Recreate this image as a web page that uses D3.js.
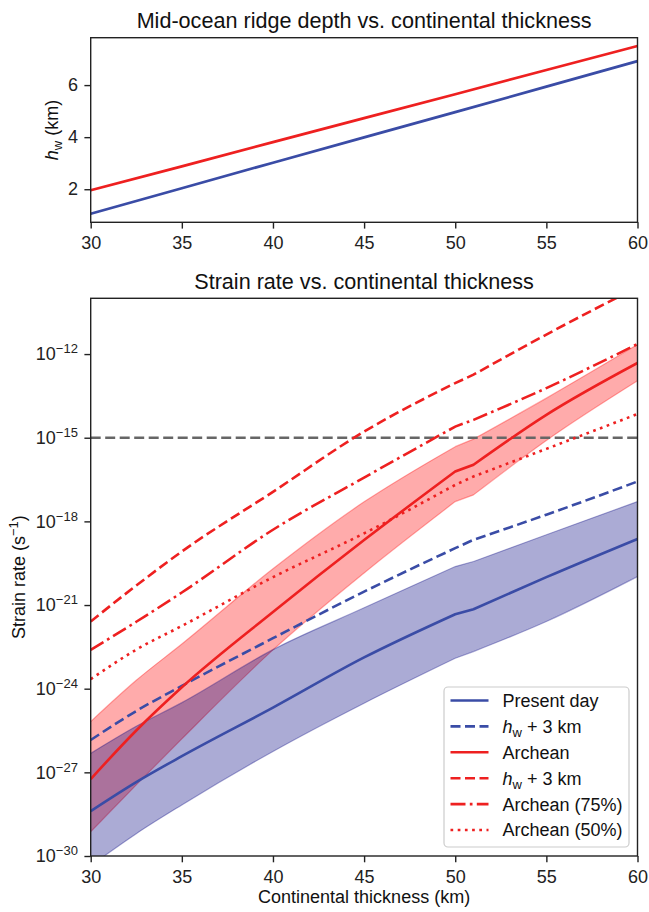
<!DOCTYPE html>
<html>
<head>
<meta charset="utf-8">
<script src="https://cdn.jsdelivr.net/npm/d3@7"></script>
<style>
  body { margin: 0; background: #fff; }
  svg { font-family: "Liberation Sans", Arial, sans-serif; }
  .tick line { stroke: #222; stroke-width: 1.4; }
  .tick text { fill: #222; font-size: 18px; }
</style>
</head>
<body>
<svg id="chart" width="649" height="912"></svg>
<script>
// ---- data ----
var ridgeX = [30, 35, 40, 45, 50, 55, 60];
var ridgePresent = [1.06, 2.04, 3.02, 3.99, 4.96, 5.94, 6.92];
var ridgeArchean = [1.96, 2.88, 3.81, 4.73, 5.65, 6.58, 7.50];

// strain rates stored as log10(s^-1)
var thick = [30, 32.5, 35, 40, 45, 50, 51, 55, 60];
var presentLog      = [-28.39, -27.35, -26.42, -24.68, -22.88, -21.33, -21.15, -20.0, -18.63];
var presentUpperLog = [-26.32, -25.35, -24.5, -22.6, -21.1, -19.62, -19.44, -18.48, -17.29];
var presentLowerLog = [-30.35, -29.2, -28.17, -26.25, -24.52, -22.91, -22.67, -21.59, -19.98];
var presentHwLog    = [-25.84, -24.8, -23.9, -22.19, -20.52, -18.96, -18.66, -17.76, -16.57];
var archeanLog      = [-27.24, -25.5, -23.95, -21.25, -18.67, -16.21, -15.97, -14.18, -12.32];
var archeanUpperLog = [-25.18, -23.7, -22.4, -19.7, -17.3, -15.32, -15.05, -13.58, -11.66];
var archeanLowerLog = [-29.13, -27.45, -25.8, -22.61, -19.85, -17.29, -17.05, -15.1, -12.96];
var archeanHwLog    = [-21.59, -20.3, -19.08, -16.94, -14.78, -13.04, -12.74, -11.3, -9.6];
var archean75Log    = [-22.61, -21.6, -20.55, -18.3, -16.43, -14.6, -14.36, -13.22, -11.64];
var archean50Log    = [-23.66, -22.6, -21.75, -20.0, -18.43, -16.69, -16.39, -15.4, -14.15];
var referenceRate = 1e-15;

var xTicks = [30, 35, 40, 45, 50, 55, 60];
var hwTicks = [2, 4, 6];
var rateTickExps = [-30, -27, -24, -21, -18, -15, -12];

var legendItems = [
  {label: "Present day", hw: false, color: "#3a4ca6", dash: null},
  {label: " + 3 km", hw: true, color: "#3a4ca6", dash: "10,4.5"},
  {label: "Archean", hw: false, color: "#ee2020", dash: null},
  {label: " + 3 km", hw: true, color: "#ee2020", dash: "10,4.5"},
  {label: "Archean (75%)", hw: false, color: "#ee2020", dash: "15,4.3,2.7,4.3"},
  {label: "Archean (50%)", hw: false, color: "#ee2020", dash: "2.7,4.5"}
];

// ---- layout ----
var BLUE = "#3a4ca6", RED = "#ee2020";
var left = 90.7, right = 637.5;
var topA = 37.7, botA = 222.3;
var topB = 298.3, botB = 856;
var kinkFrom = 50, kinkTo = 51; // small step in every curve between these

var svg = d3.select("#chart");

var x = d3.scaleLinear().domain([30, 60]).range([left, right]);
var yA = d3.scaleLinear().domain([0.73, 7.82]).range([botA, topA]);
var yB = d3.scaleLog().domain([1e-30, 1e-10]).range([botB, topB]);

// ---- top panel ----
svg.append("text").attr("x", (left + right) / 2).attr("y", 27.5)
  .attr("text-anchor", "middle").attr("font-size", 21.6).attr("fill", "#111")
  .text("Mid-ocean ridge depth vs. continental thickness");

var lineA = d3.line().x(function (d) { return x(d[0]); }).y(function (d) { return yA(d[1]); });

[[ridgePresent, BLUE], [ridgeArchean, RED]].forEach(function (s) {
  svg.append("path")
    .datum(ridgeX.map(function (v, i) { return [v, s[0][i]]; }))
    .attr("d", lineA).attr("fill", "none").attr("stroke", s[1]).attr("stroke-width", 2.7);
});

svg.append("g").attr("transform", "translate(0," + botA + ")")
  .call(d3.axisBottom(x).tickValues(xTicks).tickSize(6.3).tickPadding(7.7))
  .call(function (g) { g.select(".domain").remove(); });

svg.append("g").attr("transform", "translate(" + left + ",0)")
  .call(d3.axisLeft(yA).tickValues(hwTicks).tickSize(6.3).tickPadding(6.5))
  .call(function (g) { g.select(".domain").remove(); });

svg.append("rect").attr("x", left).attr("y", topA).attr("width", right - left).attr("height", botA - topA)
  .attr("fill", "none").attr("stroke", "#222").attr("stroke-width", 1.4);

var hwLabel = svg.append("text").attr("transform", "translate(58," + (topA + botA) / 2 + ") rotate(-90)")
  .attr("text-anchor", "middle").attr("font-size", 18).attr("fill", "#111");
hwLabel.append("tspan").attr("font-style", "italic").text("h");
hwLabel.append("tspan").attr("font-size", 13).attr("dy", 4).text("w");
hwLabel.append("tspan").attr("dy", -4).text(" (km)");

// ---- bottom panel ----
svg.append("text").attr("x", (left + right) / 2).attr("y", 288.5)
  .attr("text-anchor", "middle").attr("font-size", 21.6).attr("fill", "#111")
  .text("Strain rate vs. continental thickness");

svg.append("clipPath").attr("id", "clipB").append("rect")
  .attr("x", left).attr("y", topB).attr("width", right - left).attr("height", botB - topB);

var plotB = svg.append("g").attr("clip-path", "url(#clipB)");

var mono = d3.line().curve(d3.curveMonotoneX);

function toPx(logs) {
  return thick.map(function (t, i) { return [x(t), yB(Math.pow(10, logs[i])), t]; });
}
function smooth(pts) {
  return mono(pts.map(function (d) { return [d[0], d[1]]; }));
}
// two smooth pieces joined by a short straight step
function forward(logs) {
  var p = toPx(logs);
  var head = p.filter(function (d) { return d[2] <= kinkFrom; });
  var tail = p.filter(function (d) { return d[2] >= kinkTo; });
  return smooth(head) + smooth(tail).replace(/^M/, "L");
}
function backward(logs) {
  var p = toPx(logs).reverse();
  var tail = p.filter(function (d) { return d[2] >= kinkTo; });
  var head = p.filter(function (d) { return d[2] <= kinkFrom; });
  return smooth(tail).replace(/^M/, "L") + smooth(head).replace(/^M/, "L");
}

function band(lo, hi, color) {
  plotB.append("path").attr("d", forward(hi) + backward(lo) + "Z")
    .attr("fill", color).attr("fill-opacity", 0.33).attr("stroke", "none");
  [lo, hi].forEach(function (edge) {
    plotB.append("path").attr("d", forward(edge)).attr("fill", "none")
      .attr("stroke", color).attr("stroke-opacity", 0.33).attr("stroke-width", 1.2);
  });
}
band(archeanLowerLog, archeanUpperLog, "red");
band(presentLowerLog, presentUpperLog, "navy");

plotB.append("line").attr("x1", left).attr("x2", right)
  .attr("y1", yB(referenceRate)).attr("y2", yB(referenceRate))
  .attr("stroke", "#666").attr("stroke-width", 2.7).attr("stroke-dasharray", "10,4.5");

var series = [
  [presentLog, BLUE, null],
  [presentHwLog, BLUE, "10,4.5"],
  [archeanLog, RED, null],
  [archeanHwLog, RED, "10,4.5"],
  [archean75Log, RED, "15,4.3,2.7,4.3"],
  [archean50Log, RED, "2.7,4.5"]
];
series.forEach(function (s) {
  plotB.append("path").attr("d", forward(s[0]))
    .attr("fill", "none").attr("stroke", s[1]).attr("stroke-width", 2.6)
    .attr("stroke-dasharray", s[2]);
});

svg.append("g").attr("transform", "translate(0," + botB + ")")
  .call(d3.axisBottom(x).tickValues(xTicks).tickSize(6.3).tickPadding(7.7))
  .call(function (g) { g.select(".domain").remove(); });

var yAxisB = svg.append("g").attr("transform", "translate(" + left + ",0)")
  .call(d3.axisLeft(yB).tickValues(rateTickExps.map(function (e) { return Math.pow(10, e); }))
    .tickSize(6.3).tickPadding(6.5).tickFormat(""))
  .call(function (g) { g.select(".domain").remove(); });
yAxisB.selectAll(".tick text").each(function (d) {
  var t = d3.select(this);
  var e = Math.round(Math.log10(d));
  t.append("tspan").text("10");
  t.append("tspan").attr("font-size", 13).attr("dy", -7).text("\u2212" + Math.abs(e));
});

svg.append("rect").attr("x", left).attr("y", topB).attr("width", right - left).attr("height", botB - topB)
  .attr("fill", "none").attr("stroke", "#222").attr("stroke-width", 1.4);

svg.append("text").attr("x", (left + right) / 2).attr("y", 903)
  .attr("text-anchor", "middle").attr("font-size", 18).attr("fill", "#111")
  .text("Continental thickness (km)");

var rateLabel = svg.append("text").attr("transform", "translate(24.5," + (topB + botB) / 2 + ") rotate(-90)")
  .attr("text-anchor", "middle").attr("font-size", 18).attr("fill", "#111");
rateLabel.append("tspan").text("Strain rate (s");
rateLabel.append("tspan").attr("font-size", 13).attr("dy", -7).text("\u22121");
rateLabel.append("tspan").attr("dy", 7).text(")");

// ---- legend ----
var legend = svg.append("g");
legend.append("rect").attr("x", 444).attr("y", 687).attr("width", 185).attr("height", 160)
  .attr("rx", 4).attr("fill", "#fff").attr("fill-opacity", 0.8)
  .attr("stroke", "#ccc").attr("stroke-width", 1.2);
legendItems.forEach(function (d, i) {
  var cy = 700.5 + i * 25.9;
  legend.append("line").attr("x1", 450.5).attr("x2", 488.5).attr("y1", cy).attr("y2", cy)
    .attr("stroke", d.color).attr("stroke-width", 2.6).attr("stroke-dasharray", d.dash);
  var t = legend.append("text").attr("x", 502.5).attr("y", cy).attr("dy", "0.36em")
    .attr("font-size", 18).attr("fill", "#111");
  if (d.hw) {
    t.append("tspan").attr("font-style", "italic").text("h");
    t.append("tspan").attr("font-size", 13).attr("dy", 4).text("w");
    t.append("tspan").attr("dy", -4).text(d.label);
  } else {
    t.text(d.label);
  }
});
</script>
</body>
</html>
